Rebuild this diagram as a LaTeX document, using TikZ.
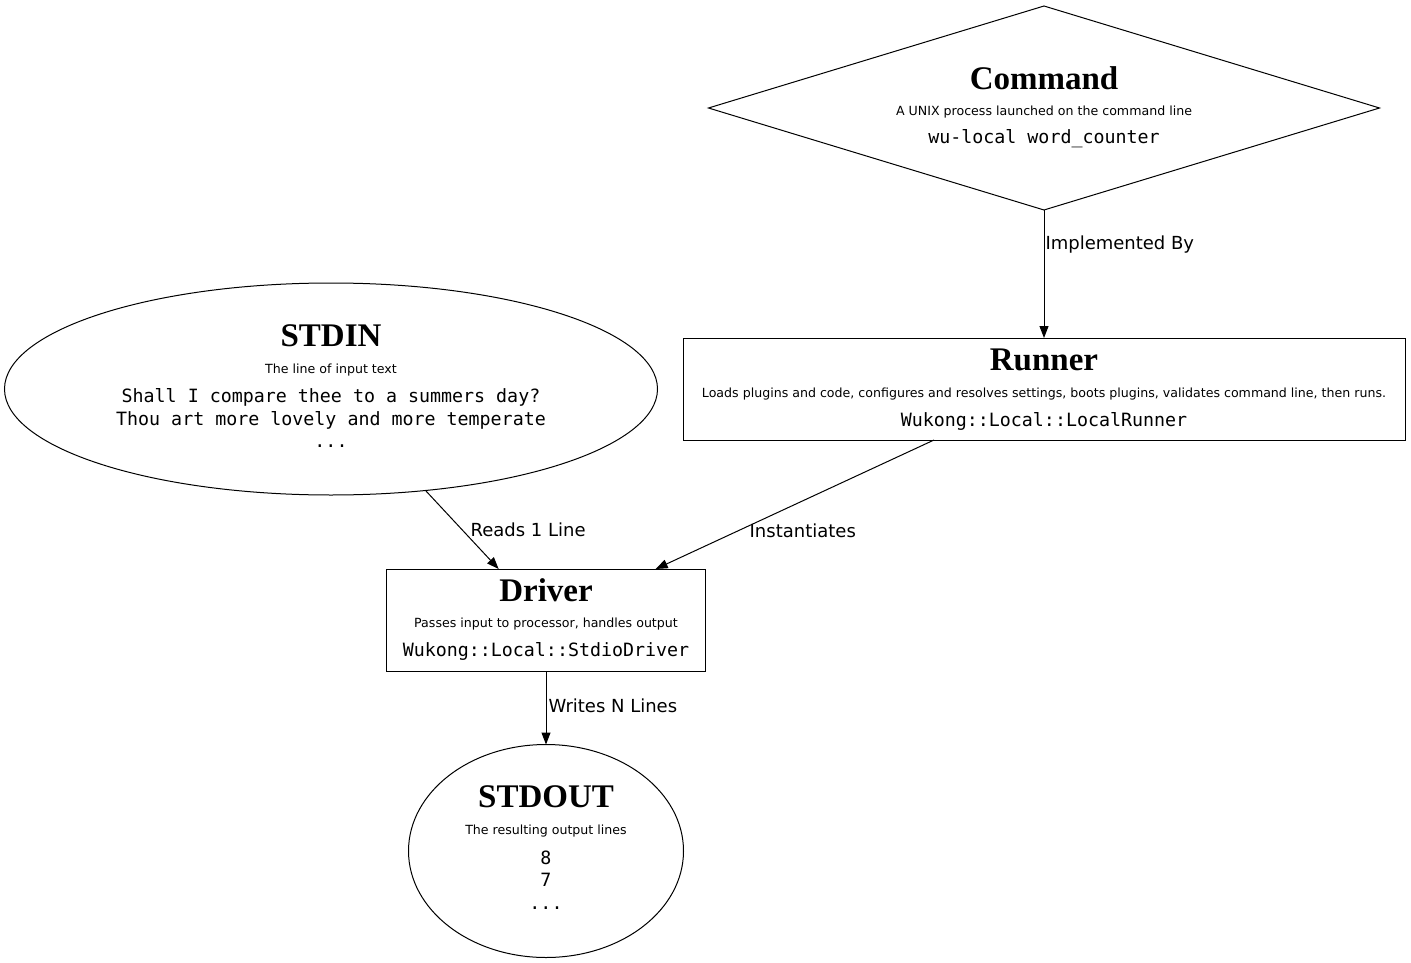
\documentclass[tikz,border=0pt]{standalone}
\usepackage{fontspec}
\setmainfont{DejaVu Sans}
\setmonofont{DejaVu Sans Mono}
\newfontfamily\headfont{Liberation Serif}
\usetikzlibrary{shapes.geometric,arrows.meta}

\begin{document}
\begin{tikzpicture}[x=1pt,y=-1pt,line width=1pt,
  shapebox/.style={draw,rectangle,inner sep=0,outer sep=0},
  shapeoval/.style={draw,ellipse,inner sep=0,outer sep=0},
  shapediam/.style={draw,diamond,inner sep=0,outer sep=0},
  headtext/.style={inner sep=0,font=\headfont\bfseries\fontsize{33}{36}\selectfont},
  subtext/.style={inner sep=0,font=\fontsize{12.6}{14}\selectfont},
  codetext/.style={inner sep=0,align=center,font=\ttfamily\fontsize{18.3}{22.5}\selectfont},
  edgelabel/.style={inner sep=0,anchor=west,font=\fontsize{18}{20}\selectfont},
  flow/.style={-{Triangle[length=12pt,width=9pt]}}]
  \useasboundingbox (0,0) rectangle (1411,963);
  % shapes
  \node[shapediam,minimum width=671,minimum height=204] (command) at (1044,108) {};
  \node[shapebox,minimum width=722,minimum height=102] (runner) at (1044,389) {};
  \node[shapeoval,minimum width=653,minimum height=212] (stdin) at (331,389) {};
  \node[shapebox,minimum width=319,minimum height=102] (driver) at (546,620) {};
  \node[shapeoval,minimum width=275,minimum height=213] (stdout) at (546,851) {};
  % texts
  \node[headtext] (command-head) at (1044,78) {Command};
  \node[subtext] (command-sub) at (1044,112) {A UNIX process launched on the command line};
  \node[codetext] (command-code) at (1044,139) {wu-local word\_counter};
  \node[headtext] (runner-head) at (1044,360) {Runner};
  \node[subtext] (runner-sub) at (1044,394) {Loads plugins and code, configures and resolves settings, boots plugins, validates command line, then runs.};
  \node[codetext] (runner-code) at (1044,421) {Wukong::Local::LocalRunner};
  \node[headtext] (stdin-head) at (331,336) {STDIN};
  \node[subtext] (stdin-sub) at (331,370) {The line of input text};
  \node[codetext] (stdin-code) at (331,418) {Shall I compare thee to a summers day?\\Thou art more lovely and more temperate\\...};
  \node[headtext] (driver-head) at (546,590) {Driver};
  \node[subtext] (driver-sub) at (546,624) {Passes input to processor, handles output};
  \node[codetext] (driver-code) at (546,651) {Wukong::Local::StdioDriver};
  \node[headtext] (stdout-head) at (546,797) {STDOUT};
  \node[subtext] (stdout-sub) at (546,831) {The resulting output lines};
  \node[codetext] (stdout-code) at (546,880) {8\\7\\...};
  % connectors
  \draw[flow] (command) -- node[edgelabel,pos=.27,xshift=1pt] (implemented) {Implemented By} (runner);
  \draw[flow] (stdin) -- node[edgelabel,pos=.5,xshift=8pt] (reads) {Reads 1 Line} (driver);
  \draw[flow] (runner) -- node[edgelabel,pos=.7,xshift=10pt] (instantiates) {Instantiates} (driver);
  \draw[flow] (driver) -- node[edgelabel,pos=.48,xshift=2pt] (writes) {Writes N Lines} (stdout);
\end{tikzpicture}
\end{document}
